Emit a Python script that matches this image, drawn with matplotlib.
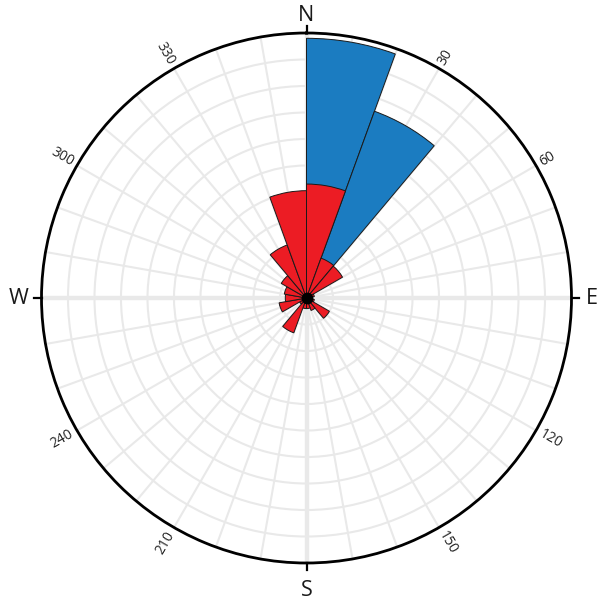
import numpy as np
import matplotlib
matplotlib.use("Agg")
import matplotlib.pyplot as plt

# 20-degree bins, starting at N, clockwise (fraction of outer radius)
bin_starts = [0, 20, 40, 60, 80, 100, 120, 140, 160, 180, 200, 220, 240, 260, 280, 300, 320, 340]
blue_values = [0.98, 0.75, 0, 0, 0, 0, 0, 0, 0, 0, 0, 0, 0, 0, 0, 0, 0, 0]
red_values = [0.43, 0.16, 0.157, 0.03, 0.02, 0.03, 0.10, 0.05, 0.04, 0.04, 0.14, 0.03,
              0.105, 0.08, 0.085, 0.11, 0.213, 0.405]
bin_width = 20

compass_labels = ["N", "E", "S", "W"]
compass_angles = [0, 90, 180, 270]
degree_labels = ["30", "60", "120", "150", "210", "240", "300", "330"]
degree_angles = [30, 60, 120, 150, 210, 240, 300, 330]

plt.rcParams['font.family'] = ['Open Sans', 'DejaVu Sans']

fig = plt.figure(figsize=(5.99, 6.02), dpi=100)
cx, cy, R = 306.5, 298.0, 265.0
W, H = 599.0, 602.0
ax = fig.add_axes([(cx - R) / W, (H - cy - R) / H, 2 * R / W, 2 * R / H], projection='polar')
ax.set_theta_zero_location('N')
ax.set_theta_direction(-1)
ax.set_ylim(0, 1)

grid_color = '#e9e9e9'
ax.set_thetagrids(np.arange(0, 360, 10), labels=[])
ax.set_rgrids(np.arange(0.1, 1.0, 0.1), labels=[])
ax.grid(True, color=grid_color, linewidth=1.5)
ax.set_axisbelow(True)
ax.tick_params(length=0)
for a in compass_angles:
    ax.plot([np.deg2rad(a), np.deg2rad(a)], [0, 1], color=grid_color, lw=3.2, zorder=0.5)

ax.spines['polar'].set_color('black')
ax.spines['polar'].set_linewidth(2.0)

theta = np.deg2rad(bin_starts)
w = np.deg2rad(bin_width)
ax.bar(theta, blue_values, width=w, align='edge', color='#1b7cc1', edgecolor='#1a1a1a',
       linewidth=0.7, zorder=2)
ax.bar(theta, red_values, width=w, align='edge', color='#ec1c24', edgecolor='#1a1a1a',
       linewidth=0.7, zorder=3)
ax.plot([0], [0], 'o', color='black', markersize=7.5, zorder=4, clip_on=False)

# compass ticks and labels
for a, lab in zip(compass_angles, compass_labels):
    t = np.deg2rad(a)
    ax.plot([t, t], [1.0, 1.028], color='black', lw=1.6, clip_on=False, zorder=5)
rpos = {"N": 1.065, "E": 1.075, "S": 1.105, "W": 1.085}
for a, lab in zip(compass_angles, compass_labels):
    ax.text(np.deg2rad(a), rpos[lab], lab, ha='center', va='center', fontsize=15.5,
            color='#1a1a1a', clip_on=False)

for a, lab in zip(degree_angles, degree_labels):
    phi = 90 - a
    if np.cos(np.deg2rad(phi)) >= 0:
        rot, ha = phi, 'left'
    else:
        rot, ha = phi + 180, 'right'
    ax.text(np.deg2rad(a), 1.02, lab, rotation=rot, rotation_mode='anchor',
            ha=ha, va='center', fontsize=10, color='#222222', clip_on=False)

fig.savefig('out.png', dpi=100)
